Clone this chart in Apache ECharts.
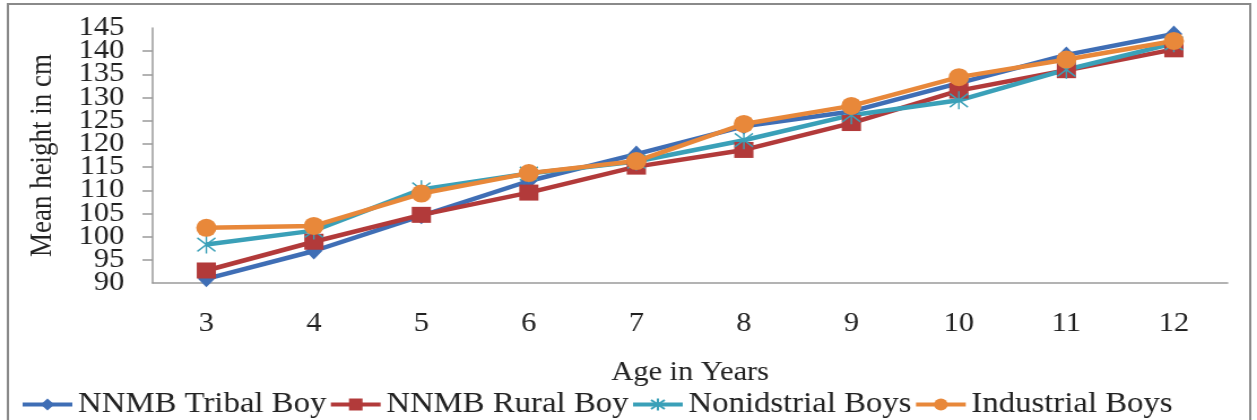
<!DOCTYPE html>
<html>
<head>
<meta charset="utf-8">
<script src="https://cdn.jsdelivr.net/npm/echarts@6/dist/echarts.min.js"></script>
<style>
  html, body { margin: 0; padding: 0; background: #fff; overflow: hidden; }
  #wrap { width: 1257px; height: 420px; overflow: hidden; }
  /* the figure is laid out slightly narrower and widened horizontally */
  #chart { width: 1112px; height: 420px; transform: scaleX(1.1304); transform-origin: 0 0; }
</style>
</head>
<body>
<div id="wrap"><div id="chart"></div></div>
<script>
// Age groups (years)
const ages = ['3', '4', '5', '6', '7', '8', '9', '10', '11', '12'];

// Mean height in cm per age group
const tribalBoy = [90.9, 96.9, 104.5, 112.0, 117.8, 123.8, 127.0, 133.1, 139.2, 143.7];
const ruralBoy = [92.7, 98.9, 104.7, 109.5, 115.1, 118.7, 124.5, 131.5, 135.9, 140.4];
const nonindustrialBoys = [98.3, 101.3, 110.2, 113.6, 116.2, 120.8, 126.2, 129.4, 136.0, 141.7];
const industrialBoys = [101.9, 102.3, 109.3, 113.7, 116.3, 124.3, 128.2, 134.4, 138.2, 142.2];

// Height axis range and step
const yMin = 90;
const yMax = 145;
const yStep = 5;

const seriesNames = ['NNMB Tribal Boy', 'NNMB Rural Boy', 'Nonidstrial Boys', 'Industrial Boys'];
const seriesColors = ['#3F6EB5', '#B23A3A', '#3AA0B8', '#E8883A'];

const FONT = '"Liberation Serif", "Times New Roman", serif';
const asterisk = 'path://M0,-8L0,8M-7,-6L7,6M-7,6L7,-6';
const labelStyle = { fontFamily: FONT, fontSize: 27, color: '#222', margin: 25 };

function lineSeries(name, data, color, symbol, size, extraItem) {
  return {
    name: name,
    type: 'line',
    data: data,
    yAxisIndex: 0,
    symbol: symbol,
    symbolSize: size,
    showAllSymbol: true,
    lineStyle: { color: color, width: 4.5 },
    itemStyle: Object.assign({ color: color }, extraItem || {}),
    emphasis: { disabled: true },
    animation: false
  };
}

const chart = echarts.init(document.getElementById('chart'), null, { renderer: 'canvas' });
chart.setOption({
  backgroundColor: '#fff',
  animation: false,
  graphic: [{
    type: 'rect',
    shape: { x: 7, y: 4, width: 1099, height: 440 },
    style: { fill: 'none', stroke: '#8a8a8a', lineWidth: 2 },
    silent: true,
    z: -1
  }],
  grid: { left: 135, right: 26, top: 28, bottom: 137 },
  xAxis: {
    type: 'category',
    data: ages,
    boundaryGap: true,
    name: 'Age in Years',
    nameLocation: 'middle',
    nameGap: 76,
    nameTextStyle: { fontFamily: FONT, fontSize: 27, color: '#222', verticalAlign: 'top' },
    axisLine: { lineStyle: { color: '#9a9a9a', width: 1.5 } },
    axisTick: { show: false },
    axisLabel: { fontFamily: FONT, fontSize: 27, color: '#222', margin: 27 },
    splitLine: { show: false }
  },
  yAxis: [
    {
      // main height axis: line, ticks and the inner labels
      type: 'value',
      position: 'left',
      min: yMin,
      max: yMax,
      interval: yStep,
      name: 'Mean height in cm',
      nameLocation: 'middle',
      nameRotate: 90,
      nameGap: 84,
      nameTextStyle: { fontFamily: FONT, fontSize: 27, color: '#222' },
      axisLine: { show: true, lineStyle: { color: '#9a9a9a', width: 1.5 } },
      axisTick: { show: true, length: 9, lineStyle: { color: '#9a9a9a', width: 1.5 } },
      axisLabel: Object.assign({ showMinLabel: false, showMaxLabel: false }, labelStyle),
      splitLine: { show: false }
    },
    {
      // same scale, carrying only the end labels so the packed labels all stay visible
      type: 'value',
      position: 'left',
      min: yMin,
      max: yMax,
      interval: yStep,
      axisLine: { show: false },
      axisTick: { show: false },
      axisLabel: Object.assign({
        showMinLabel: true,
        showMaxLabel: true,
        formatter: function (v) { return (v === yMin || v === yMax) ? String(v) : ''; }
      }, labelStyle),
      splitLine: { show: false }
    }
  ],
  legend: {
    data: seriesNames,
    left: 13,
    top: 385,
    itemWidth: 44,
    itemHeight: 15,
    itemGap: 2,
    lineStyle: { width: 4 },
    textStyle: { fontFamily: FONT, fontSize: 29, color: '#222' },
    selectedMode: false
  },
  series: [
    lineSeries(seriesNames[0], tribalBoy, seriesColors[0], 'diamond', [15, 17]),
    lineSeries(seriesNames[1], ruralBoy, seriesColors[1], 'rect', [17, 16]),
    lineSeries(seriesNames[2], nonindustrialBoys, seriesColors[2], asterisk, [16, 18],
      { borderColor: seriesColors[2], borderWidth: 1.5 }),
    lineSeries(seriesNames[3], industrialBoys, seriesColors[3], 'circle', [18, 18])
  ]
});
</script>
</body>
</html>
